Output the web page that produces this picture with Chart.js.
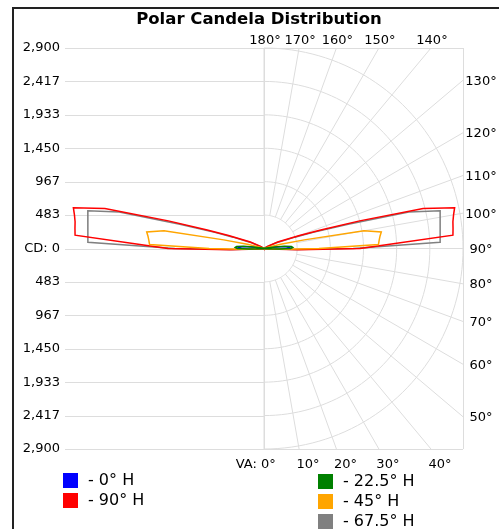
<!DOCTYPE html>
<html>
<head>
<meta charset="utf-8">
<script src="https://cdn.jsdelivr.net/npm/chart.js@4/dist/chart.umd.min.js"></script>
<style>
  html, body { margin: 0; padding: 0; background: #fff; }
  canvas { display: block; }
</style>
</head>
<body>
<canvas id="chart" width="499" height="529"></canvas>
<script>
// Candela values per vertical angle (degrees from nadir), one list per horizontal plane
const maxCd = 2900;
const vAngles = [0, 10, 20, 30, 40, 50, 60, 70, 80, 84, 86, 88, 90, 92, 94, 96, 98, 100, 102, 104, 106, 108, 110, 115, 120, 130, 140, 150, 160, 170, 180];
const cd0 = [0, 0, 0, 0, 0, 0, 0, 0, 0, 0, 30, 150, 330, 370, 340, 240, 120, 50, 20, 0, 0, 0, 0, 0, 0, 0, 0, 0, 0, 0, 0];
const cd90 = [0, 0, 0, 0, 0, 0, 0, 0, 5, 20, 80, 500, 1400, 1860, 2760, 2770, 2780, 2805, 2840, 2390, 1450, 870, 550, 220, 60, 10, 0, 0, 0, 0, 0];
const cd225 = [0, 0, 0, 0, 0, 0, 0, 0, 0, 0, 50, 220, 390, 420, 400, 300, 160, 70, 30, 10, 0, 0, 0, 0, 0, 0, 0, 0, 0, 0, 0];
const cd45 = [0, 0, 0, 0, 0, 0, 0, 0, 0, 10, 50, 300, 800, 1669, 1682, 1700, 1726, 1480, 600, 250, 110, 50, 25, 0, 0, 0, 0, 0, 0, 0, 0];
const cd675 = [0, 0, 0, 0, 0, 0, 0, 0, 0, 15, 70, 450, 1300, 2568, 2573, 2581, 2592, 2606, 2625, 2175, 1276, 754, 480, 190, 50, 5, 0, 0, 0, 0, 0];

const seriesNames = ['- 0° H', '- 90° H', '- 22.5° H', '- 45° H', '- 67.5° H'];
const seriesValues = [cd0, cd90, cd225, cd45, cd675];
const seriesColors = ['#0000ff', '#ff0000', '#008000', '#ffa500', '#808080'];
const seriesOrder = [4, 2, 0, 1, 3];

const cdTickLabels = ['2,900', '2,417', '1,933', '1,450', '967', '483', 'CD: 0', '483', '967', '1,450', '1,933', '2,417', '2,900'];
const cdTickValues = cdTickLabels.map((_, i) => maxCd * (i - 6) / 6);
const gridAngles = [0, 10, 20, 30, 40, 50, 60, 70, 80, 90, 100, 110, 120, 130, 140, 150, 160, 170, 180];

const FONT = '"DejaVu Sans", Verdana, sans-serif';
const rad = d => d * Math.PI / 180;

// right half: this plane, left half: mirrored (opposite plane)
const toPoints = vals => {
    const pts = [];
    vAngles.forEach((a, i) => pts.push({ x: vals[i] * Math.sin(rad(a)), y: -vals[i] * Math.cos(rad(a)) }));
    for (let i = vAngles.length - 1; i >= 0; i--) {
        const a = vAngles[i];
        pts.push({ x: -vals[i] * Math.sin(rad(a)), y: -vals[i] * Math.cos(rad(a)) });
    }
    return pts;
};

const polarGrid = {
    id: 'polarGrid',
    beforeDatasetsDraw(chart) {
        const { ctx, scales: { x, y } } = chart;
        const px = v => x.getPixelForValue(v);
        const py = v => y.getPixelForValue(v);
        const line = (x1, y1, x2, y2) => {
            ctx.beginPath();
            ctx.moveTo(x1, y1);
            ctx.lineTo(x2, y2);
            ctx.stroke();
        };
        const snap = v => Math.round(v) + 0.5;
        ctx.save();
        ctx.strokeStyle = '#dddddd';
        ctx.lineWidth = 1;

        // horizontal lines on the left half
        cdTickValues.forEach(v => line(px(-maxCd), snap(py(v)), px(0), snap(py(v))));
        // frame top, bottom, right and the centre line
        line(px(0), snap(py(maxCd)), px(maxCd), snap(py(maxCd)));
        line(px(0), snap(py(-maxCd)), px(maxCd), snap(py(-maxCd)));
        line(snap(px(maxCd)), py(maxCd), snap(px(maxCd)), py(-maxCd));
        line(snap(px(0)), py(maxCd), snap(px(0)), py(-maxCd));

        // half circles
        cdTickValues.filter(v => v > 0).forEach(r => {
            ctx.beginPath();
            for (let d = 0; d <= 180; d += 2) {
                const xx = px(r * Math.sin(rad(d))), yy = py(-r * Math.cos(rad(d)));
                if (d === 0) ctx.moveTo(xx, yy); else ctx.lineTo(xx, yy);
            }
            ctx.stroke();
        });

        // spokes and their labels
        const r0 = cdTickValues[7];
        ctx.fillStyle = '#000';
        ctx.font = '13px ' + FONT;
        gridAngles.forEach(a => {
            const s = Math.sin(rad(a)), c = Math.cos(rad(a));
            const tSide = s > 1e-9 ? maxCd / s : Infinity;
            const tTop = Math.abs(c) > 1e-9 ? maxCd / Math.abs(c) : Infinity;
            const t = Math.min(tSide, tTop);
            const ex = px(t * s), ey = py(-t * c);
            line(px(r0 * s), py(-r0 * c), ex, ey);

            const label = a + '°';
            if (tSide < tTop - 1e-6) {
                ctx.textAlign = 'center';
                ctx.textBaseline = 'middle';
                ctx.fillText(label, ex + 18, ey + 1);
            } else if (c < 0) {
                ctx.textAlign = 'center';
                ctx.textBaseline = 'alphabetic';
                ctx.fillText(label, ex + 1, ey - 4);
            } else {
                ctx.textBaseline = 'alphabetic';
                if (a === 0) {
                    ctx.textAlign = 'left';
                    ctx.fillText(label, ex - 3, ey + 19);
                    ctx.textAlign = 'right';
                    ctx.fillText('VA: ', ex - 3, ey + 19);
                } else {
                    ctx.textAlign = 'center';
                    ctx.fillText(label, ex + 9, ey + 19);
                }
            }
        });
        ctx.restore();
    }
};

const decorations = {
    id: 'decorations',
    afterDraw(chart) {
        const { ctx } = chart;
        ctx.save();
        // outer frame
        ctx.strokeStyle = '#222';
        ctx.lineWidth = 2;
        ctx.beginPath();
        ctx.moveTo(13, 529);
        ctx.lineTo(13, 8);
        ctx.lineTo(499, 8);
        ctx.stroke();

        // title
        ctx.fillStyle = '#000';
        ctx.font = 'bold 16.5px ' + FONT;
        ctx.textAlign = 'center';
        ctx.textBaseline = 'middle';
        ctx.fillText('Polar Candela Distribution', 259, 20);

        // legend in two columns
        const slots = [[63, 473], [63, 493], [318, 474], [318, 494], [318, 514]];
        ctx.font = '16px ' + FONT;
        ctx.textAlign = 'left';
        chart.data.datasets.forEach((ds, i) => {
            const [lx, ly] = slots[i];
            ctx.fillStyle = ds.borderColor;
            ctx.fillRect(lx, ly, 15, 15);
            ctx.fillStyle = '#000';
            ctx.fillText(ds.label, lx + 25, ly + 8);
        });
        ctx.restore();
    }
};

new Chart(document.getElementById('chart'), {
    type: 'scatter',
    data: {
        datasets: seriesNames.map((name, i) => ({
            label: name,
            data: toPoints(seriesValues[i]),
            borderColor: seriesColors[i],
            backgroundColor: seriesColors[i],
            borderWidth: 1.5,
            showLine: true,
            fill: false,
            pointRadius: 0,
            tension: 0,
            order: seriesOrder[i]
        }))
    },
    options: {
        responsive: false,
        animation: false,
        layout: { padding: { left: 0, right: 36, top: 48, bottom: 80 } },
        plugins: {
            legend: { display: false },
            title: { display: false },
            tooltip: { enabled: false }
        },
        scales: {
            x: {
                type: 'linear',
                min: -maxCd,
                max: maxCd,
                display: false
            },
            y: {
                type: 'linear',
                min: -maxCd,
                max: maxCd,
                afterBuildTicks: s => { s.ticks = cdTickValues.map(v => ({ value: v })); },
                afterFit: s => { s.width = 65; },
                grid: { display: false, drawTicks: false },
                border: { display: false },
                ticks: {
                    autoSkip: false,
                    padding: 5,
                    color: '#000',
                    font: { family: FONT, size: 13 },
                    callback: (v, i) => cdTickLabels[i]
                }
            }
        }
    },
    plugins: [polarGrid, decorations]
});
</script>
</body>
</html>
